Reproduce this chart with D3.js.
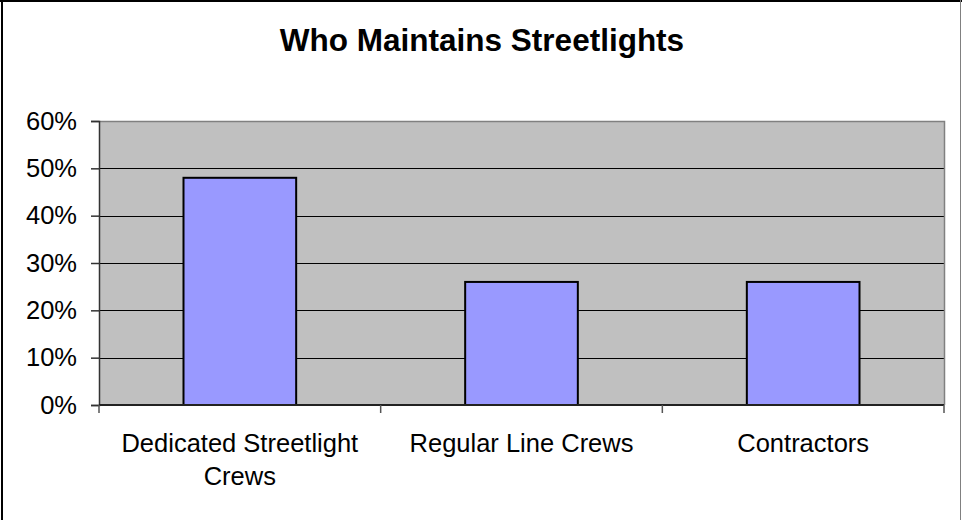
<!DOCTYPE html>
<html>
<head>
<meta charset="utf-8">
<script src="https://cdn.jsdelivr.net/npm/d3@7"></script>
<style>
  html, body { margin: 0; padding: 0; background: #fff; }
  svg { display: block; font-family: "Liberation Sans", Arial, sans-serif; }
</style>
</head>
<body>
<script>
// Survey results: share of respondents by who maintains their streetlights
const categories = [["Dedicated Streetlight", "Crews"], ["Regular Line Crews"], ["Contractors"]];
const shares = [0.48, 0.26, 0.26];
const yTicks = [0, 0.1, 0.2, 0.3, 0.4, 0.5, 0.6];
const title = "Who Maintains Streetlights";

const W = 962, H = 520;
const plot = { left: 99, right: 944, top: 121, bottom: 405 };

const svg = d3.select("body").append("svg")
  .attr("width", W).attr("height", H);

// outer chart frame
svg.append("line").attr("x1", 2).attr("x2", 2).attr("y1", 0).attr("y2", H)
  .attr("stroke", "#000").attr("stroke-width", 2);
svg.append("line").attr("x1", 0).attr("x2", W).attr("y1", 1).attr("y2", 1)
  .attr("stroke", "#000").attr("stroke-width", 2);
svg.append("line").attr("x1", W - 1.5).attr("x2", W - 1.5).attr("y1", 0).attr("y2", H)
  .attr("stroke", "#808080").attr("stroke-width", 1);

svg.append("text")
  .attr("x", 482).attr("y", 51)
  .attr("text-anchor", "middle")
  .attr("font-size", 31.5).attr("font-weight", "bold")
  .text(title);

const x = d3.scaleBand()
  .domain(d3.range(categories.length))
  .range([plot.left, plot.right])
  .paddingInner(0).paddingOuter(0);

const y = d3.scaleLinear().domain([0, 0.6]).range([plot.bottom, plot.top]);

// plot area background
svg.append("rect")
  .attr("x", plot.left).attr("y", plot.top)
  .attr("width", plot.right - plot.left).attr("height", plot.bottom - plot.top)
  .attr("fill", "#C0C0C0");

// gridlines
svg.append("g").selectAll("line")
  .data(yTicks.filter(t => t > 0 && t < 0.6))
  .join("line")
  .attr("x1", plot.left).attr("x2", plot.right)
  .attr("y1", d => Math.round(y(d)) + 0.5).attr("y2", d => Math.round(y(d)) + 0.5)
  .attr("stroke", "#000").attr("stroke-width", 1);

// plot area border (top and right)
svg.append("path")
  .attr("d", `M${plot.left},${plot.top + 0.5}H${plot.right + 0.5}V${plot.bottom}`)
  .attr("fill", "none").attr("stroke", "#808080").attr("stroke-width", 1.5);

// bars: width is 40% of each category slot
const barW = x.bandwidth() * 0.4;
svg.append("g").selectAll("rect")
  .data(shares)
  .join("rect")
  .attr("x", (d, i) => x(i) + (x.bandwidth() - barW) / 2)
  .attr("y", d => y(d))
  .attr("width", barW)
  .attr("height", d => y(0) - y(d))
  .attr("fill", "#9999FF")
  .attr("stroke", "#000").attr("stroke-width", 2);

// value axis
const yAxis = d3.axisLeft(y).tickValues(yTicks)
  .tickFormat(d3.format(".0%")).tickSize(8).tickPadding(14);
const gy = svg.append("g").attr("transform", `translate(${plot.left},0)`).call(yAxis);
gy.select(".domain").attr("stroke", "#333").attr("stroke-width", 1.5);
gy.selectAll(".tick line").attr("stroke", "#333").attr("stroke-width", 1.5);
gy.selectAll(".tick text").attr("font-size", 25.5).attr("fill", "#000")
  .attr("font-family", "Liberation Sans, Arial, sans-serif");

// category axis: ticks at slot boundaries
const gx = svg.append("g");
gx.append("line")
  .attr("x1", plot.left).attr("x2", plot.right)
  .attr("y1", plot.bottom).attr("y2", plot.bottom)
  .attr("stroke", "#222").attr("stroke-width", 2);
gx.selectAll("line.tick")
  .data(d3.range(categories.length + 1))
  .join("line").attr("class", "tick")
  .attr("x1", i => i < categories.length ? x(i) : plot.right)
  .attr("x2", i => i < categories.length ? x(i) : plot.right)
  .attr("y1", plot.bottom).attr("y2", plot.bottom + 8)
  .attr("stroke", "#555").attr("stroke-width", 1.5);

const labels = gx.selectAll("text.cat")
  .data(categories)
  .join("text").attr("class", "cat")
  .attr("text-anchor", "middle")
  .attr("font-size", 25.5)
  .attr("x", (d, i) => x(i) + x.bandwidth() / 2)
  .attr("y", 452);
labels.selectAll("tspan")
  .data(d => d)
  .join("tspan")
  .attr("x", function () { return this.parentNode.getAttribute("x"); })
  .attr("dy", (d, j) => j === 0 ? 0 : 33)
  .text(d => d);
</script>
</body>
</html>
